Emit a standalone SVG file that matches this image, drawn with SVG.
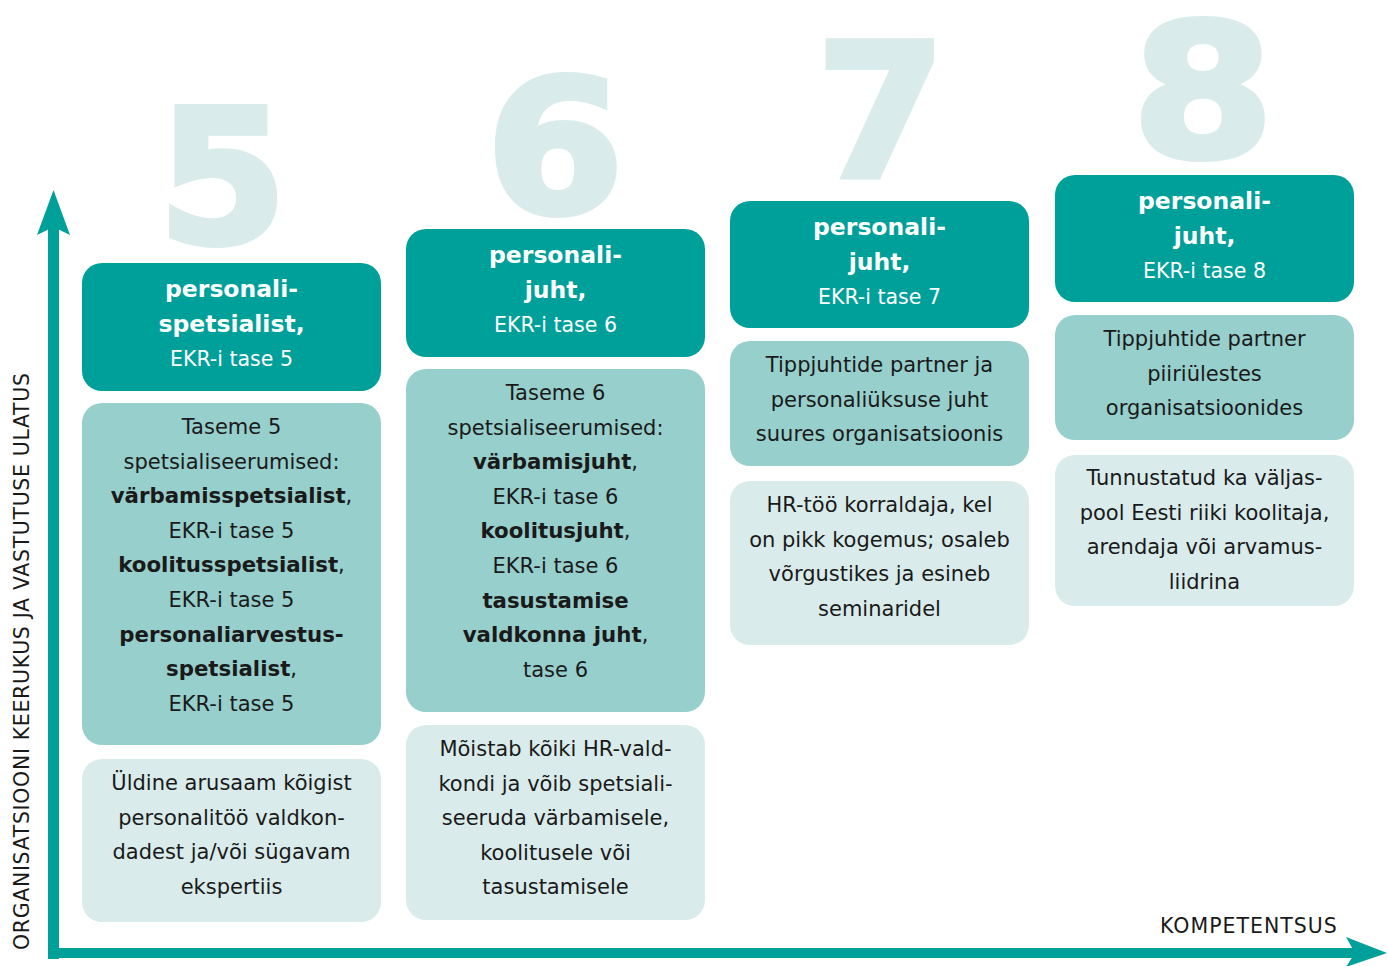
<svg xmlns="http://www.w3.org/2000/svg" width="1387" height="966" viewBox="0 0 1387 966">
<style>
.hd{fill:#00a09a}
.md{fill:#96cfcc}
.bt{fill:#d9eceb}
.num{font-family:"DejaVu Sans",sans-serif;font-weight:bold;font-size:186px;fill:#d9eceb;stroke:#d9eceb;stroke-width:6;text-anchor:middle}
.t{font-family:"DejaVu Sans","Noto Sans",sans-serif;font-size:21px;fill:#1a1a1a;text-anchor:middle}
.b{font-weight:bold;font-size:21.3px}
.hb{font-family:"DejaVu Sans",sans-serif;font-weight:bold;font-size:23.5px;fill:#ffffff;text-anchor:middle}
.hr{font-family:"DejaVu Sans",sans-serif;font-size:20.5px;fill:#ffffff;text-anchor:middle}
.ax{font-family:"DejaVu Sans",sans-serif;font-size:20.5px;fill:#1a1a1a;letter-spacing:1px}
.axis{fill:#00a09a}
</style>

<g id="numbers">
<text class="num" x="222.5" y="242">5</text>
<text class="num" transform="translate(555,212) scale(1.07,1)" x="0" y="0">6</text>
<text class="num" x="881" y="177">7</text>
<text class="num" transform="translate(1203,156) scale(1.1,1)" x="0" y="0">8</text>
</g>

<g id="connectors">
<rect class="axis" x="48" y="226" width="11" height="733"/>
<rect class="axis" x="48" y="948" width="1310" height="10"/>
<polygon class="axis" points="53.5,190 70,235 53.5,227 37,235"/>
<polygon class="axis" points="1387,953 1346,937 1355,953 1346,967"/>
</g>

<g id="axis-labels">
<text class="ax" x="1160" y="933">KOMPETENTSUS</text>
<text class="ax" transform="translate(29,950) rotate(-90)" x="0" y="0" textLength="578">ORGANISATSIOONI KEERUKUS JA VASTUTUSE ULATUS</text>
</g>

<g id="col5-header">
<rect class="hd" x="82" y="263" width="299" height="128" rx="20"/>
<text class="hb" x="231.5" y="297">personali-</text>
<text class="hb" x="231.5" y="332">spetsialist,</text>
<text class="hr" x="231.5" y="366">EKR-i tase 5</text>
</g>
<g id="col5-spec">
<rect class="md" x="82" y="403" width="299" height="342" rx="20"/>
<text class="t" x="231.5" y="434">Taseme 5</text>
<text class="t" x="231.5" y="468.6">spetsialiseerumised:</text>
<text class="t" x="231.5" y="503.2"><tspan class="b">värbamisspetsialist</tspan>,</text>
<text class="t" x="231.5" y="537.8">EKR-i tase 5</text>
<text class="t" x="231.5" y="572.4"><tspan class="b">koolitusspetsialist</tspan>,</text>
<text class="t" x="231.5" y="607">EKR-i tase 5</text>
<text class="t b" x="231.5" y="641.6">personaliarvestus-</text>
<text class="t" x="231.5" y="676.2"><tspan class="b">spetsialist</tspan>,</text>
<text class="t" x="231.5" y="710.8">EKR-i tase 5</text>
</g>
<g id="col5-desc">
<rect class="bt" x="82" y="759" width="299" height="163" rx="20"/>
<text class="t" x="231.5" y="790">Üldine arusaam kõigist</text>
<text class="t" x="231.5" y="824.6">personalitöö valdkon-</text>
<text class="t" x="231.5" y="859.2">dadest ja/või sügavam</text>
<text class="t" x="231.5" y="893.8">ekspertiis</text>
</g>

<g id="col6-header">
<rect class="hd" x="406" y="229" width="299" height="128" rx="20"/>
<text class="hb" x="555.5" y="263">personali-</text>
<text class="hb" x="555.5" y="298">juht,</text>
<text class="hr" x="555.5" y="332">EKR-i tase 6</text>
</g>
<g id="col6-spec">
<rect class="md" x="406" y="369" width="299" height="343" rx="20"/>
<text class="t" x="555.5" y="400">Taseme 6</text>
<text class="t" x="555.5" y="434.6">spetsialiseerumised:</text>
<text class="t" x="555.5" y="469.2"><tspan class="b">värbamisjuht</tspan>,</text>
<text class="t" x="555.5" y="503.8">EKR-i tase 6</text>
<text class="t" x="555.5" y="538.4"><tspan class="b">koolitusjuht</tspan>,</text>
<text class="t" x="555.5" y="573">EKR-i tase 6</text>
<text class="t b" x="555.5" y="607.6">tasustamise</text>
<text class="t" x="555.5" y="642.2"><tspan class="b">valdkonna juht</tspan>,</text>
<text class="t" x="555.5" y="676.8">tase 6</text>
</g>
<g id="col6-desc">
<rect class="bt" x="406" y="725" width="299" height="195" rx="20"/>
<text class="t" x="555.5" y="756">Mõistab kõiki HR-vald-</text>
<text class="t" x="555.5" y="790.6">kondi ja võib spetsiali-</text>
<text class="t" x="555.5" y="825.2">seeruda värbamisele,</text>
<text class="t" x="555.5" y="859.8">koolitusele või</text>
<text class="t" x="555.5" y="894.4">tasustamisele</text>
</g>

<g id="col7-header">
<rect class="hd" x="730" y="201" width="299" height="127" rx="20"/>
<text class="hb" x="879.5" y="235">personali-</text>
<text class="hb" x="879.5" y="270">juht,</text>
<text class="hr" x="879.5" y="304">EKR-i tase 7</text>
</g>
<g id="col7-spec">
<rect class="md" x="730" y="341" width="299" height="125" rx="20"/>
<text class="t" x="879.5" y="372">Tippjuhtide partner ja</text>
<text class="t" x="879.5" y="406.6">personaliüksuse juht</text>
<text class="t" x="879.5" y="441.2">suures organisatsioonis</text>
</g>
<g id="col7-desc">
<rect class="bt" x="730" y="481" width="299" height="164" rx="20"/>
<text class="t" x="879.5" y="512">HR-töö korraldaja, kel</text>
<text class="t" x="879.5" y="546.6">on pikk kogemus; osaleb</text>
<text class="t" x="879.5" y="581.2">võrgustikes ja esineb</text>
<text class="t" x="879.5" y="615.8">seminaridel</text>
</g>

<g id="col8-header">
<rect class="hd" x="1055" y="175" width="299" height="127" rx="20"/>
<text class="hb" x="1204.5" y="209">personali-</text>
<text class="hb" x="1204.5" y="244">juht,</text>
<text class="hr" x="1204.5" y="278">EKR-i tase 8</text>
</g>
<g id="col8-spec">
<rect class="md" x="1055" y="315" width="299" height="125" rx="20"/>
<text class="t" x="1204.5" y="346">Tippjuhtide partner</text>
<text class="t" x="1204.5" y="380.6">piiriülestes</text>
<text class="t" x="1204.5" y="415.2">organisatsioonides</text>
</g>
<g id="col8-desc">
<rect class="bt" x="1055" y="455" width="299" height="151" rx="20"/>
<text class="t" x="1204.5" y="485">Tunnustatud ka väljas-</text>
<text class="t" x="1204.5" y="519.6">pool Eesti riiki koolitaja,</text>
<text class="t" x="1204.5" y="554.2">arendaja või arvamus-</text>
<text class="t" x="1204.5" y="588.8">liidrina</text>
</g>
</svg>
